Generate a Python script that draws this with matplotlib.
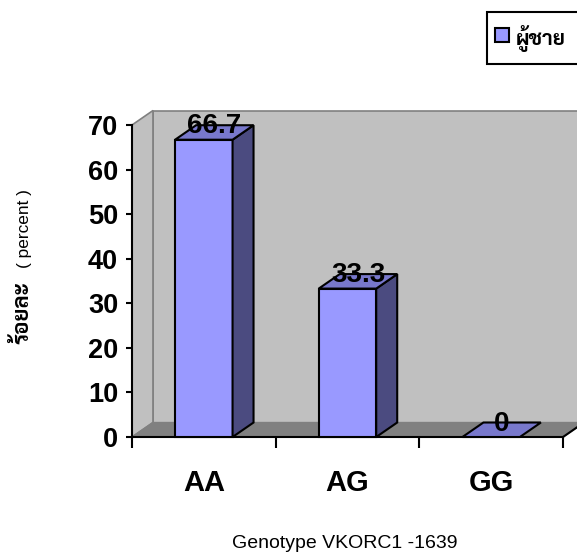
import matplotlib
matplotlib.use('Agg')
import matplotlib.pyplot as plt
from matplotlib.patches import Polygon, Rectangle

genotypes = ['AA', 'AG', 'GG']
percent = [66.7, 33.3, 0]
yticks = [0, 10, 20, 30, 40, 50, 60, 70]

# excel-like 3d look: depth offset in data units
DX = 0.146
DY = 3.25
BW = 0.4
FRONT = '#9999FF'
SIDE = '#4B4B80'
TOP = '#7878CC'
WALL = '#C0C0C0'
FLOOR = '#808080'

plt.rcParams['font.family'] = ['Liberation Sans', 'Sarabun']

fig = plt.figure(figsize=(5.77, 5.58), dpi=100)
ax = fig.add_axes([132/577, 1-437/558, 431/577, 312/558])
ax.set_xlim(0, 3)
ax.set_ylim(0, 70)
ax.patch.set_visible(False)

n = len(genotypes)
ymax = yticks[-1]
# walls and floor
ax.add_patch(Polygon([(DX, DY), (n+DX, DY), (n+DX, ymax+DY), (DX, ymax+DY)],
                     closed=True, fc=WALL, ec=FLOOR, lw=1.2, clip_on=False, zorder=1))
ax.add_patch(Polygon([(0, 0), (DX, DY), (DX, ymax+DY), (0, ymax)],
                     closed=True, fc=WALL, ec=FLOOR, lw=1.2, clip_on=False, zorder=1))
ax.add_patch(Polygon([(0, 0), (n, 0), (n+DX, DY), (DX, DY)],
                     closed=True, fc=FLOOR, ec=FLOOR, lw=1.0, clip_on=False, zorder=1.1))
ax.plot([n, n+DX], [0, DY], color='black', lw=1.5, clip_on=False, zorder=1.2)

for i, v in enumerate(percent):
    x0 = i + 0.5 - BW/2
    x1 = x0 + BW
    if v > 0:
        ax.add_patch(Rectangle((x0, 0), BW, v, fc=FRONT, ec='black', lw=1.5,
                               clip_on=False, zorder=3))
        ax.add_patch(Polygon([(x1, 0), (x1+DX, DY), (x1+DX, v+DY), (x1, v)],
                             closed=True, fc=SIDE, ec='black', lw=1.5,
                             clip_on=False, zorder=3))
    ax.add_patch(Polygon([(x0, v), (x1, v), (x1+DX, v+DY), (x0+DX, v+DY)],
                         closed=True, fc=TOP, ec='black', lw=1.5,
                         clip_on=False, zorder=3))
    lbl = '%g' % v
    ax.text(i + 0.5 + DX/2, v + 1.4, lbl, ha='center', va='baseline',
            fontsize=20, fontweight='bold', zorder=5)

for s in ['top', 'right']:
    ax.spines[s].set_visible(False)
for s in ['left', 'bottom']:
    ax.spines[s].set_linewidth(1.5)
    ax.spines[s].set_zorder(2.5)

ax.set_yticks(yticks)
ax.set_yticklabels([str(t) for t in yticks], fontsize=19.5, fontweight='bold')
ax.tick_params(axis='y', length=4, width=1.5, pad=6)

ax.set_xticks(range(n + 1))
ax.set_xticklabels([''] * (n + 1))
ax.tick_params(axis='x', which='major', length=8, width=1.5)
ax.set_xticks([i + 0.5 for i in range(n)], minor=True)
ax.set_xticklabels(genotypes, minor=True, fontsize=21, fontweight='bold')
ax.tick_params(axis='x', which='minor', length=0, pad=23)

# axis titles
fig.text(345/577, 1-543/558, 'Genotype VKORC1 -1639', ha='center', va='center',
         fontsize=14)
fig.text(23/577, 1-313/558, 'ร้อยละ', rotation=90, ha='center', va='center',
         fontsize=16, fontweight='bold')
fig.text(25/577, 1-229/558, '( percent )', rotation=90, ha='center', va='center',
         fontsize=12.4)

# legend box
fig.patches.append(Rectangle((487/577, 1-64/558), 0.2, 52/558, transform=fig.transFigure,
                             fc='white', ec='black', lw=1.5))
fig.patches.append(Rectangle((495/577, 1-42/558), 14/577, 14/558, transform=fig.transFigure,
                             fc=FRONT, ec='black', lw=1.5))
fig.text(516/577, 1-38/558, 'ผู้ชาย', ha='left', va='center', fontsize=15,
         fontweight='bold')

fig.savefig('out.png', dpi=100)
